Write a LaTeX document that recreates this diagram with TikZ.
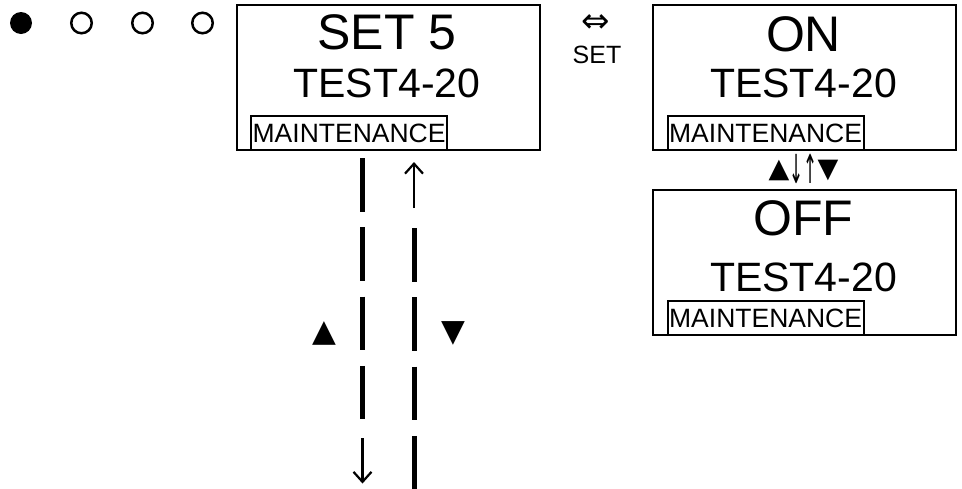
\documentclass[tikz,border=0pt]{standalone}
\usepackage{fontspec}
\usepackage{graphicx}
\setmainfont{Liberation Sans}
\newfontfamily\symf{DejaVu Sans}
\usetikzlibrary{arrows.meta}
\tikzset{
  lcdbox/.style={draw, line width=2.2pt, minimum width=303pt, minimum height=145pt, inner sep=0pt, anchor=north west},
  bigtxt/.style={anchor=base, inner sep=0pt, font=\fontsize{50}{50}\selectfont},
  midtxt/.style={anchor=base, inner sep=0pt, font=\fontsize{41}{41}\selectfont},
  mainttag/.style={draw, line width=2.2pt, anchor=north west, minimum width=196pt, inner xsep=0pt, inner ysep=3pt, text height=23pt, text depth=5pt, font=\fontsize{26.5}{26.5}\selectfont},
  barline/.style={line width=5pt, dash pattern=on 53.5pt off 15.8pt},
  arrline/.style={line width=2.2pt, -{Straight Barb[length=10pt,width=18pt,line width=2.2pt]}},
  symtxt/.style={inner sep=0pt, font=\symf\fontsize{31}{31}\selectfont},
}
\begin{document}
\begin{tikzpicture}[x=1pt,y=-1pt]
\useasboundingbox (0,0) rectangle (962,488);
% indicator dots
\node[circle, fill, inner sep=0pt, minimum size=22pt] (d1) at (21,23) {};
\node[circle, draw, line width=2.5pt, inner sep=0pt, minimum size=20.5pt] (d2) at (81.5,23) {};
\node[circle, draw, line width=2.5pt, inner sep=0pt, minimum size=20.5pt] (d3) at (142.5,23) {};
\node[circle, draw, line width=2.5pt, inner sep=0pt, minimum size=20.5pt] (d4) at (202.5,23) {};
% box 1
\node[lcdbox] (b1) at (235.5,4) {};
\node[bigtxt] (b1t1) at (387,49) {SET 5};
\node[midtxt] (b1t2) at (387,97) {TEST4-20};
\node[mainttag] (b1m) at (250,115) {MAINTENANCE};
% SET label
\node[inner sep=0pt, font=\symf\fontsize{34}{34}\selectfont] (lr) at (596,24) {⇔};
\node[anchor=base, inner sep=0pt, font=\fontsize{25}{25}\selectfont] (setl) at (597,63) {SET};
% box 2
\node[lcdbox] (b2) at (652,4) {};
\node[bigtxt] (b2t1) at (803.5,51) {ON};
\node[midtxt] (b2t2) at (803.5,97) {TEST4-20};
\node[mainttag] (b2m) at (666.5,115) {MAINTENANCE};
% up/down between
\node[anchor=base, inner sep=0pt] (ud) at (803.5,177.5) {{\symf\fontsize{27}{27}\selectfont ▲}\raisebox{-6pt}{\symf\fontsize{40}{40}\selectfont\scalebox{0.42}[1]{↓↑}}{\symf\fontsize{27}{27}\selectfont ▼}};
% box 3
\node[lcdbox] (b3) at (652,189) {};
\node[bigtxt] (b3t1) at (803.5,235) {OFF};
\node[midtxt] (b3t2) at (803.5,291) {TEST4-20};
\node[mainttag] (b3m) at (666.5,300) {MAINTENANCE};
% vertical connectors
\coordinate (la) at (362.5,158);
\coordinate (lb) at (362.5,420);
\coordinate (lc) at (362.5,438);
\coordinate (ld) at (362.5,483.5);
\coordinate (ra) at (414,208);
\coordinate (rb) at (414,162);
\coordinate (rc) at (414,228);
\coordinate (rd) at (414,489);
\draw[barline] (la) -- (lb);
\draw[arrline] (lc) -- (ld);
\draw[arrline] (ra) -- (rb);
\draw[barline] (rc) -- (rd);
\node[symtxt] (up) at (324,333) {▲};
\node[symtxt] (dn) at (453.5,333) {▼};
\end{tikzpicture}
\end{document}
